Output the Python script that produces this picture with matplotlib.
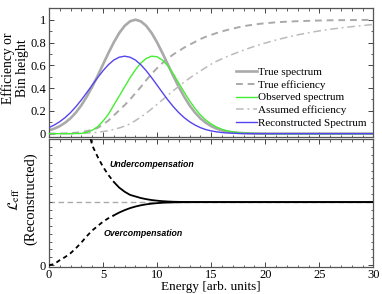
import matplotlib
matplotlib.use("Agg")
import matplotlib.pyplot as plt
from matplotlib.ticker import MultipleLocator, FixedLocator, FuncFormatter

plt.rcParams['font.family'] = ['Liberation Serif', 'DejaVu Serif']
plt.rcParams['mathtext.fontset'] = 'stix'

# ---------------- data ----------------
energy = [0, 0.5, 1, 1.5, 2, 2.5, 3, 3.5, 4, 4.5, 5, 5.5, 6, 6.5, 7, 7.5, 8, 8.5, 9, 9.5,
          10, 10.5, 11, 11.5, 12, 12.5, 13, 13.5, 14, 14.5, 15, 15.5, 16, 16.5, 17, 17.5,
          18, 18.5, 19, 19.5, 20, 21, 22, 23, 24, 25, 26, 27, 28, 29, 30]

true_spectrum = [0.029, 0.044, 0.066, 0.096, 0.135, 0.186, 0.249, 0.325, 0.411, 0.506,
                 0.607, 0.707, 0.801, 0.883, 0.946, 0.986, 1.0, 0.986, 0.946, 0.883,
                 0.801, 0.707, 0.607, 0.506, 0.411, 0.325, 0.249, 0.186, 0.135, 0.096,
                 0.066, 0.044, 0.029, 0.018, 0.011, 0.007, 0.004, 0.002, 0.001, 0.001,
                 0.0, 0, 0, 0, 0, 0, 0, 0, 0, 0, 0]

true_efficiency = [0, 0, 0.001, 0.002, 0.004, 0.008, 0.013, 0.022, 0.033, 0.05,
                   0.08, 0.115, 0.16, 0.205, 0.25, 0.30, 0.355, 0.41, 0.47, 0.525,
                   0.575, 0.62, 0.66, 0.695, 0.725, 0.755, 0.78, 0.805, 0.83, 0.85,
                   0.867, 0.883, 0.898, 0.91, 0.922, 0.933, 0.943, 0.951, 0.958, 0.964,
                   0.969, 0.977, 0.983, 0.987, 0.99, 0.993, 0.995, 0.996, 0.997, 0.998, 0.999]

observed_spectrum = [0, 0, 0, 0, 0, 0.001, 0.003, 0.01, 0.03, 0.06,
                     0.11, 0.17, 0.25, 0.33, 0.41, 0.49, 0.56, 0.62, 0.66, 0.68,
                     0.675, 0.645, 0.595, 0.525, 0.445, 0.365, 0.29, 0.222, 0.165, 0.12,
                     0.085, 0.058, 0.038, 0.024, 0.015, 0.009, 0.005, 0.003, 0.002, 0.001,
                     0.0, 0, 0, 0, 0, 0, 0, 0, 0, 0, 0]

assumed_efficiency = [0, 0, 0, 0, 0, 0.001, 0.003, 0.005, 0.008, 0.012,
                      0.018, 0.026, 0.037, 0.05, 0.066, 0.086, 0.115, 0.145, 0.18, 0.218,
                      0.257, 0.297, 0.337, 0.377, 0.415, 0.452, 0.487, 0.52, 0.55, 0.58,
                      0.61, 0.635, 0.657, 0.678, 0.697, 0.715, 0.733, 0.75, 0.766, 0.781,
                      0.795, 0.822, 0.846, 0.867, 0.886, 0.902, 0.916, 0.928, 0.939, 0.949, 0.958]

reconstructed_spectrum = [0.053, 0.076, 0.105, 0.141, 0.185, 0.237, 0.296, 0.36, 0.426, 0.491,
                          0.552, 0.605, 0.646, 0.671, 0.68, 0.671, 0.646, 0.605, 0.552, 0.491,
                          0.426, 0.36, 0.296, 0.237, 0.185, 0.141, 0.105, 0.076, 0.053, 0.036,
                          0.024, 0.016, 0.01, 0.006, 0.004, 0.002, 0.001, 0.001, 0, 0,
                          0, 0, 0, 0, 0, 0, 0, 0, 0, 0, 0]

energy_under = [3.5, 4, 4.5, 5, 5.5, 6, 6.5, 7, 7.5, 8, 8.5, 9, 9.5, 10, 10.5, 11, 11.5, 12,
                13, 14, 15, 20, 25, 30]
l_eff_under = [2.25, 1.90, 1.72, 1.56, 1.43, 1.32, 1.23, 1.165, 1.115, 1.09, 1.065, 1.047,
               1.033, 1.023, 1.015, 1.01, 1.006, 1.004, 1.001, 1.0, 1.0, 1.0, 1.0, 1.0]

energy_over = [0, 0.5, 1, 1.5, 2, 2.5, 3, 3.5, 4, 4.5, 5, 5.5, 6, 6.5, 7, 7.5, 8, 8.5, 9,
               9.5, 10, 10.5, 11, 11.5, 12, 13, 14, 15, 20, 25, 30]
l_eff_over = [0.0, 0.02, 0.08, 0.13, 0.19, 0.27, 0.36, 0.46, 0.55, 0.62, 0.69, 0.745, 0.79,
              0.835, 0.873, 0.905, 0.93, 0.95, 0.965, 0.976, 0.984, 0.99, 0.994, 0.996,
              0.998, 0.999, 1.0, 1.0, 1.0, 1.0, 1.0]

reference_level = 1.0
split_energy = 6

x_ticks = [0, 5, 10, 15, 20, 25, 30]
top_y_ticks = [0, 0.2, 0.4, 0.6, 0.8, 1.0]
top_y_labels = ["0", "0.2", "0.4", "0.6", "0.8", "1"]

# ---------------- figure ----------------
fig = plt.figure(figsize=(3.82, 2.94), dpi=100)
ax1 = fig.add_axes([0.128, 0.5357, 0.8495, 0.436])
ax2 = fig.add_axes([0.128, 0.0935, 0.8495, 0.4337])

gray = '#aaaaaa'
green = '#44ee33'
blue = '#5544ee'

ax1.plot(energy, true_spectrum, color=gray, lw=1.9, label='True spectrum', zorder=2)
ax1.plot(energy, true_efficiency, color=gray, lw=1.4, ls=(0, (3.5, 2.5)), label='True efficiency', zorder=2)
ax1.plot(energy, observed_spectrum, color=green, lw=1.0, label='Observed spectrum', zorder=3)
ax1.plot(energy, assumed_efficiency, color='#bbbbbb', lw=1.1, ls=(0, (5, 2.5, 1.2, 2.5)), label='Assumed efficiency', zorder=2)
ax1.plot(energy, reconstructed_spectrum, color=blue, lw=1.0, label='Reconstructed Spectrum', zorder=3)

leg = ax1.legend(loc='lower right', bbox_to_anchor=(0.978, 0.07), frameon=False, fontsize=8,
                 handlelength=1.9, handletextpad=0.1, labelspacing=0.25, borderaxespad=0,
                 borderpad=0)

# bottom panel
ax2.axhline(reference_level, color=gray, lw=1.0, ls=(0, (4, 2.5)), zorder=1)

iu = energy_under.index(split_energy)
io = energy_over.index(split_energy)
ax2.plot(energy_under[:iu + 1], l_eff_under[:iu + 1], color='black', lw=1.3, ls=(0, (2.5, 2.0)), zorder=3)
ax2.plot(energy_under[iu:], l_eff_under[iu:], color='black', lw=1.3, zorder=3)
ax2.plot(energy_over[:io + 1], l_eff_over[:io + 1], color='black', lw=1.3, ls=(0, (2.5, 2.0)), zorder=3)
ax2.plot(energy_over[io:], l_eff_over[io:], color='black', lw=1.3, zorder=3)

ax2.text(5.6, 1.6, 'Undercompensation', family=['Liberation Sans', 'DejaVu Sans'], style='italic',
         weight='bold', fontsize=6.3, va='center', ha='left')
ax2.text(5.05, 0.5, 'Overcompensation', family=['Liberation Sans', 'DejaVu Sans'], style='italic',
         weight='bold', fontsize=6.3, va='center', ha='left')

# axes styling
for ax in (ax1, ax2):
    ax.set_xlim(0, 30)
    ax.xaxis.set_major_locator(FixedLocator(x_ticks))
    ax.xaxis.set_minor_locator(MultipleLocator(1))
    ax.tick_params(which='both', direction='in', top=True, right=True, labelsize=9, pad=2,
                   color='#444444')
    ax.tick_params(which='major', length=3.5, width=0.7)
    ax.tick_params(which='minor', length=1.8, width=0.6)
    for s in ax.spines.values():
        s.set_color('#555555')
        s.set_linewidth(0.9)

ax1.set_ylim(-0.025, 1.1)
ax1.yaxis.set_major_locator(FixedLocator(top_y_ticks))
ax1.yaxis.set_major_formatter(FuncFormatter(lambda v, p: top_y_labels[p] if p is not None and p < len(top_y_labels) else ''))
ax1.yaxis.set_minor_locator(MultipleLocator(0.1))
ax1.tick_params(axis='x', labelbottom=False)

ax2.set_ylim(-0.02, 2.0)
ax2.yaxis.set_major_locator(FixedLocator([0]))
ax2.yaxis.set_minor_locator(MultipleLocator(0.125))
ax2.set_yticklabels(['0'])
ax2.set_xlabel('Energy [arb. units]', fontsize=9.5, labelpad=0)

fig.text(0.021, 0.769, 'Efficiency or', rotation=90, fontsize=9.8, ha='center', va='center')
fig.text(0.060, 0.769, 'Bin height', rotation=90, fontsize=9.8, ha='center', va='center')
fig.text(0.038, 0.323, r'$\mathcal{L}_{\rm eff}$', rotation=90, fontsize=10, ha='center', va='center')
fig.text(0.079, 0.323, '(Reconstructed)', rotation=90, fontsize=10.5, ha='center', va='center')

fig.savefig('out.png', dpi=100)
